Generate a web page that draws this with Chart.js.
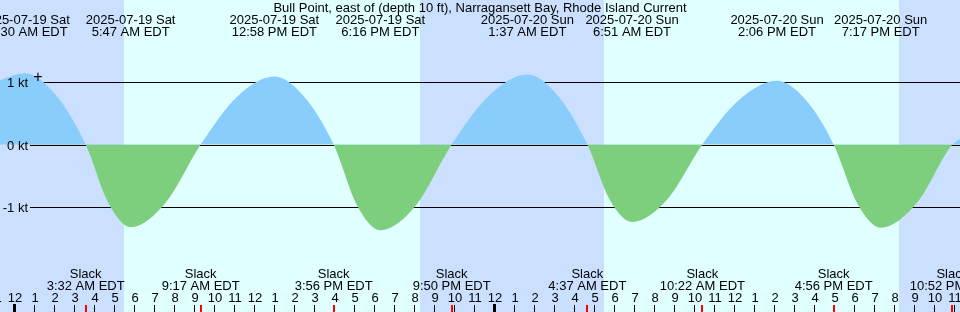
<!DOCTYPE html>
<html>
<head>
<meta charset="utf-8">
<script src="https://cdn.jsdelivr.net/npm/chart.js@4"></script>
<style>
  body { margin: 0; background: #fff; }
  canvas { display: block; }
</style>
</head>
<body>
<canvas id="tide_chart" width="960" height="312"></canvas>
<script>
// hours counted from midnight, Sat 2025-07-19 (EDT)
var title = "Bull Point, east of (depth 10 ft), Narragansett Bay, Rhode Island Current"

// max flood / max ebb
var eventDates = ["2025-07-19 Sat", "2025-07-19 Sat", "2025-07-19 Sat", "2025-07-19 Sat",
                  "2025-07-20 Sun", "2025-07-20 Sun", "2025-07-20 Sun", "2025-07-20 Sun"]
var eventTimes = ["12:30 AM EDT", "5:47 AM EDT", "12:58 PM EDT", "6:16 PM EDT",
                  "1:37 AM EDT", "6:51 AM EDT", "2:06 PM EDT", "7:17 PM EDT"]
var eventHours = [0.5, 5.783, 12.967, 18.267, 25.617, 30.85, 38.1, 43.283]
var eventSpeeds = [1.14, -1.32, 1.09, -1.37, 1.12, -1.24, 1.02, -1.33]

// slack water
var slackTimes = ["3:32 AM EDT", "9:17 AM EDT", "3:56 PM EDT", "9:50 PM EDT",
                  "4:37 AM EDT", "10:22 AM EDT", "4:56 PM EDT", "10:52 PM EDT"]
var slackHours = [3.533, 9.283, 15.933, 21.833, 28.617, 34.367, 40.933, 46.867]

// extra speeds, halfway between slack and peak
var readHours  = [-0.75, 2.02, 4.66, 7.53, 11.12, 14.45, 17.1, 20.05, 23.72, 27.12,
                  29.73, 32.61, 36.23, 39.52, 42.11, 45.08, 47.25]
var readSpeeds = [1.03, 0.8, -0.93, -0.93, 0.77, 0.77, -0.97, -0.97, 0.79, 0.79,
                  -0.88, -0.88, 0.72, 0.72, -0.94, -0.94, 0.09]

// night (sunset -> sunrise)
var nightStart = [-0.75, 20.25, 44.2]
var nightEnd   = [5.45, 29.45, 47.25]

var gridSpeeds = [1, 0, -1]
var gridLabels = ["1 kt", "0 kt", "-1 kt"]

var hourTicks = [-1, 0, 1, 2, 3, 4, 5, 6, 7, 8, 9, 10, 11, 12, 13, 14, 15, 16, 17, 18, 19, 20, 21, 22, 23,
                 24, 25, 26, 27, 28, 29, 30, 31, 32, 33, 34, 35, 36, 37, 38, 39, 40, 41, 42, 43, 44, 45, 46, 47]
var hourLabels = ["11", "12", "1", "2", "3", "4", "5", "6", "7", "8", "9", "10", "11",
                  "12", "1", "2", "3", "4", "5", "6", "7", "8", "9", "10", "11",
                  "12", "1", "2", "3", "4", "5", "6", "7", "8", "9", "10", "11",
                  "12", "1", "2", "3", "4", "5", "6", "7", "8", "9", "10", "11"]

var DAY = "#e0ffff"
var NIGHT = "#cbe0ff"
var FLOOD = "#88cdfb"
var EBB = "#7dcf7d"
var FONT = '13px "Liberation Sans", Arial, sans-serif'

function curve_points() {
  var pts = []
  eventHours.forEach((h, i) => pts.push({x: h, y: eventSpeeds[i]}))
  slackHours.forEach(h => pts.push({x: h, y: 0}))
  readHours.forEach((h, i) => pts.push({x: h, y: readSpeeds[i]}))
  pts.sort((a, b) => a.x - b.x)
  return pts
}

var tidePlugin = {
  id: 'tide',
  beforeDraw(chart) {
    var ctx = chart.ctx, x = chart.scales.x
    ctx.save()
    ctx.fillStyle = DAY
    ctx.fillRect(0, 0, chart.width, chart.height)
    ctx.fillStyle = NIGHT
    for (var i = 0; i < nightStart.length; i++) {
      var x0 = Math.round(x.getPixelForValue(nightStart[i]))
      var x1 = Math.round(x.getPixelForValue(nightEnd[i]))
      ctx.fillRect(x0, 0, x1 - x0, chart.height)
    }
    ctx.restore()
  },
  beforeDatasetsDraw(chart) {
    var ctx = chart.ctx, y = chart.scales.y
    ctx.save()
    ctx.strokeStyle = "#000"
    ctx.lineWidth = 1
    gridSpeeds.forEach(v => {
      var py = Math.round(y.getPixelForValue(v)) + 0.5
      ctx.beginPath()
      ctx.moveTo(30, py)
      ctx.lineTo(chart.width, py)
      ctx.stroke()
    })
    ctx.restore()
  },
  afterDatasetsDraw(chart) {
    var ctx = chart.ctx, x = chart.scales.x, y = chart.scales.y
    ctx.save()
    ctx.fillStyle = "#000"
    ctx.font = FONT
    ctx.textBaseline = "alphabetic"

    // speed labels
    ctx.textAlign = "right"
    gridSpeeds.forEach((v, i) => {
      ctx.fillText(gridLabels[i], 28, Math.round(y.getPixelForValue(v)) + 5)
    })

    ctx.textAlign = "center"
    ctx.fillText(title, 480, 12)

    eventHours.forEach((h, i) => {
      var px = x.getPixelForValue(h)
      ctx.fillText(eventDates[i], px, 24)
      ctx.fillText(eventTimes[i], px, 36)
    })

    slackHours.forEach((h, i) => {
      var px = x.getPixelForValue(h)
      ctx.fillText("Slack", px, 278)
      ctx.fillText(slackTimes[i], px, 290)
    })

    hourTicks.forEach((h, i) => {
      var px = Math.round(x.getPixelForValue(h))
      ctx.fillText(hourLabels[i], px, 302)
      if (h % 24 == 0) ctx.fillRect(px - 2, 304, 3, 8)
      else ctx.fillRect(px - 1, 305, 1, 7)
    })

    ctx.fillStyle = "#ff0000"
    slackHours.forEach(h => {
      var px = Math.round(x.getPixelForValue(h))
      ctx.fillRect(px - 1, 305, 2, 7)
    })

    // marker near the first flood peak
    ctx.fillStyle = "#000"
    ctx.font = '16px "Liberation Sans", Arial, sans-serif'
    ctx.fillText("+", 38, 82)
    ctx.restore()
  }
}

window.addEventListener("DOMContentLoaded", () => {
  var ctx = document.getElementById("tide_chart")
  var tide_chart = new Chart(ctx, {
    type: 'line',
    data: {
      datasets: [{
        label: 'Current',
        data: curve_points(),
        borderWidth: 0,
        pointRadius: 0,
        cubicInterpolationMode: 'monotone',
        fill: {target: 'origin', above: FLOOD, below: EBB}
      }]
    },
    options: {
      responsive: false,
      devicePixelRatio: 1,
      animation: false,
      layout: {padding: 0},
      plugins: {legend: {display: false}, tooltip: {enabled: false}, title: {display: false}},
      scales: {
        x: {type: 'linear', min: -0.75, max: 47.25, display: false},
        y: {min: -2.68, max: 2.312, display: false}
      }
    },
    plugins: [tidePlugin]
  })
})
</script>
</body>
</html>
